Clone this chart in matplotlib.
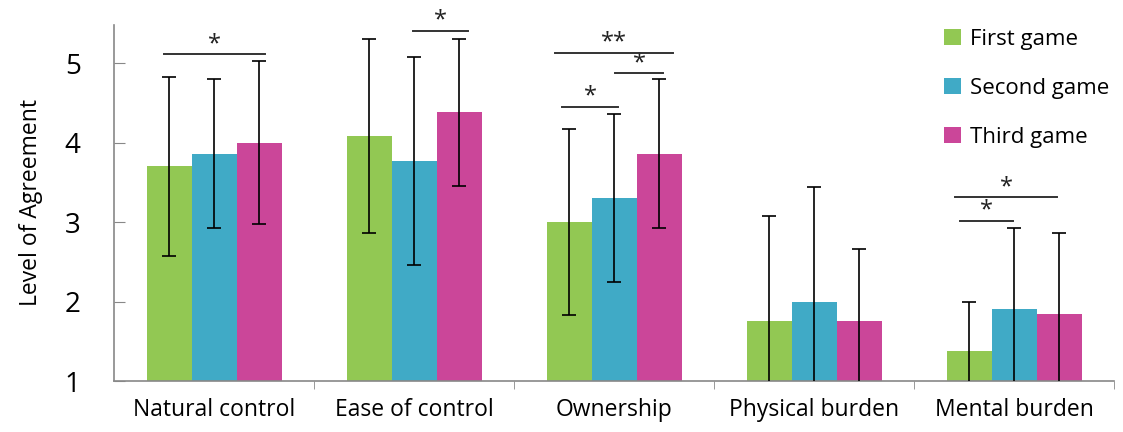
import numpy as np
import matplotlib.pyplot as plt
from matplotlib.ticker import FixedLocator

plt.rcParams['font.family'] = ['Open Sans', 'DejaVu Sans']

categories = ['Natural control', 'Ease of control', 'Ownership', 'Physical burden', 'Mental burden']
series = ['First game', 'Second game', 'Third game']
means = {
    'First game':  [3.70, 4.08, 3.00, 1.75, 1.38],
    'Second game': [3.86, 3.77, 3.30, 2.00, 1.90],
    'Third game':  [4.00, 4.38, 3.86, 1.75, 1.84],
}
sds = {
    'First game':  [1.13, 1.22, 1.17, 1.33, 0.62],
    'Second game': [0.94, 1.31, 1.06, 1.44, 1.02],
    'Third game':  [1.03, 0.93, 0.94, 0.91, 1.02],
}
colors = ['#92C853', '#40AAC6', '#CB4699']

# significance brackets: (x start, x end, y, label) in category units
brackets = [
    (-0.25, 0.255, 5.11, '*'),
    (0.995, 1.27, 5.41, '*'),
    (1.705, 2.295, 5.13, '**'),
    (2.005, 2.245, 4.87, '*'),
    (1.74, 2.02, 4.45, '*'),
    (3.705, 4.215, 3.31, '*'),
    (3.73, 3.995, 3.01, '*'),
]

fig = plt.figure(figsize=(11.23, 4.32), dpi=100)
ax = fig.add_axes([114/1123, 1 - 381/432, 1000/1123, (381-25)/432])

x = np.arange(len(categories))
w = 0.225
for i, s in enumerate(series):
    pos = x + (i - 1) * w
    ax.bar(pos, means[s], w, bottom=0, color=colors[i], label=s, zorder=2)
    ax.errorbar(pos, means[s], yerr=sds[s], fmt='none', ecolor='black',
                elinewidth=1.2, capsize=5, capthick=1.2, zorder=3)

for x0, x1, y, lab in brackets:
    ax.plot([x0, x1], [y, y], color='#333333', lw=1.4, zorder=4)
    ax.text((x0 + x1) / 2, y - 0.02, lab, ha='center', va='bottom',
            fontsize=17, color='#222222')

ax.set_xlim(-0.5, 4.5)
ax.set_ylim(1, 5.48)
ax.set_yticks([1, 2, 3, 4, 5])
ax.tick_params(axis='y', direction='in', length=8, color='#888888', labelsize=20, pad=24)
ax.set_xticks(x)
ax.set_xticklabels(categories)
ax.tick_params(axis='x', length=0, labelsize=16.5, pad=12)
ax.xaxis.set_minor_locator(FixedLocator(np.arange(0.5, 4.6, 1)))
ax.tick_params(axis='x', which='minor', direction='out', length=6, color='#888888')
for sp in ['top', 'right']:
    ax.spines[sp].set_visible(False)
for sp in ['left', 'bottom']:
    ax.spines[sp].set_color('#888888')
    ax.spines[sp].set_linewidth(1.2)
ax.set_ylabel('Level of Agreement', fontsize=16.5, labelpad=16)

ax.legend(loc='upper left', bbox_to_anchor=(0.81, 1.045), frameon=False, fontsize=16,
          handlelength=0.75, handleheight=0.75, handletextpad=0.4, labelspacing=1.25)

fig.savefig('out.png', dpi=100)
